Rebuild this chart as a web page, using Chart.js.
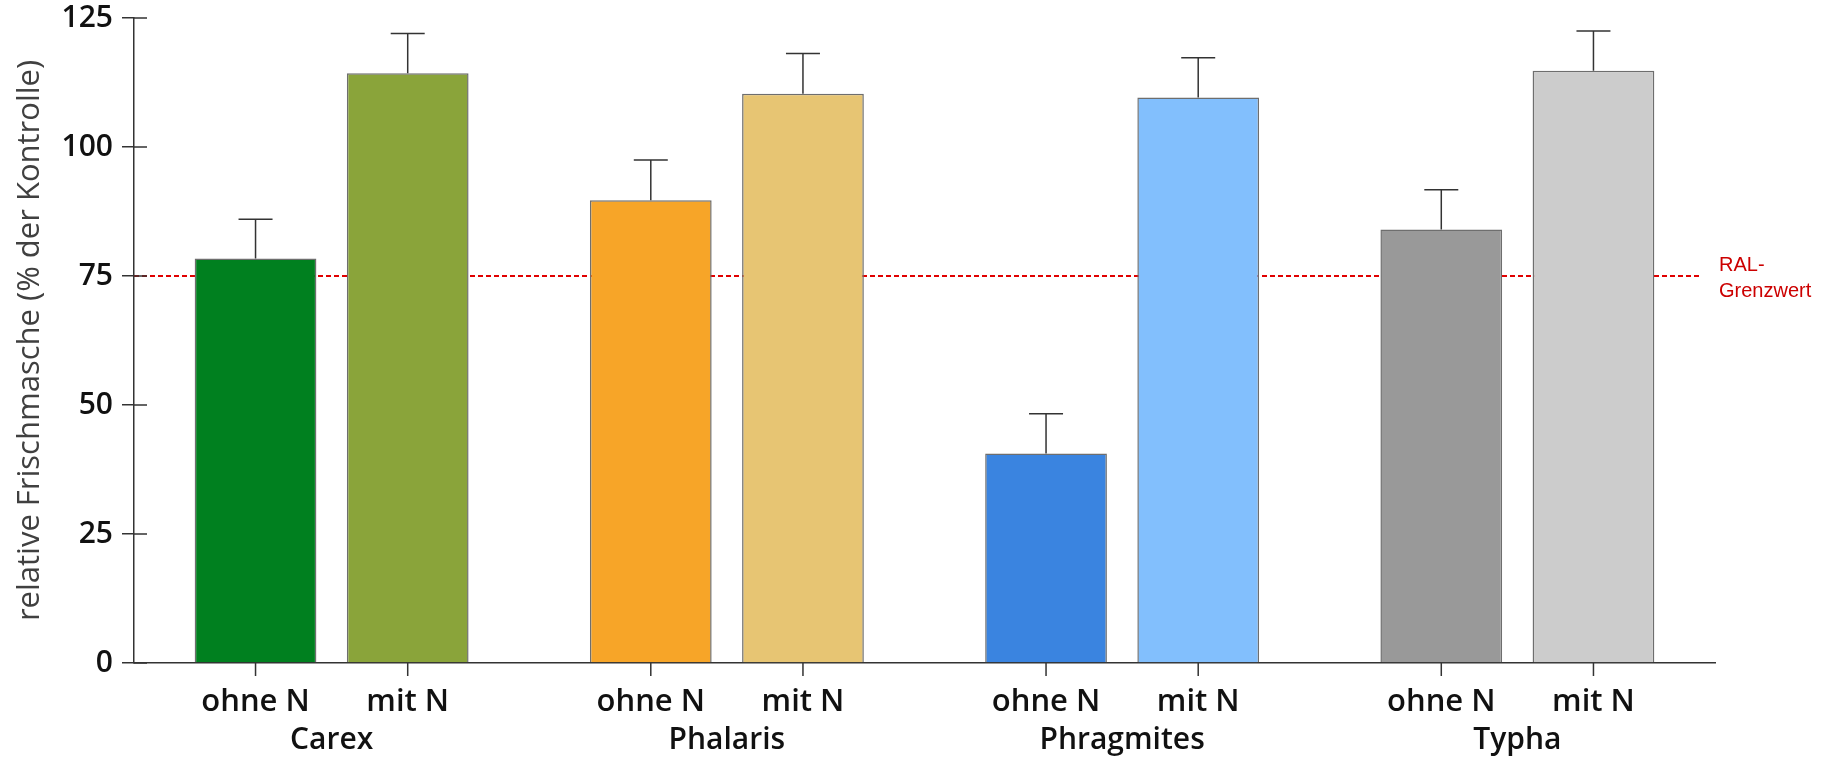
<!DOCTYPE html>
<html>
<head>
<meta charset="utf-8">
<script src="https://cdn.jsdelivr.net/npm/chart.js@4.4.0/dist/chart.umd.min.js"></script>
<style>
  html, body { margin: 0; padding: 0; background: #fff; }
  #wrap { width: 1833px; height: 760px; }
</style>
</head>
<body>
<div id="wrap"><canvas id="frischChart"></canvas></div>
<script>
const species = ['Carex', 'Phalaris', 'Phragmites', 'Typha'];
const treatments = ['ohne N', 'mit N'];
const ohneN = [78.4, 89.7, 40.6, 84.0];
const mitN = [114.3, 110.3, 109.6, 114.8];
const ohneErr = [7.6, 7.8, 7.7, 7.7];
const mitErr = [7.7, 7.8, 7.7, 7.7];
const ohneColors = ['#00801f', '#f7a528', '#3a84e0', '#999999'];
const mitColors = ['#8aa43a', '#e7c573', '#82bffd', '#cccccc'];
const yTicks = [0, 25, 50, 75, 100, 125];
const ralValue = 75;
const ralLabel = ['RAL-', 'Grenzwert'];

const FONT = '"Open Sans", "DejaVu Sans", sans-serif';

// error bars on top of every bar
const errorBars = {
    id: 'errorBars',
    afterDatasetsDraw(chart) {
        const ctx = chart.ctx, y = chart.scales.y;
        chart.data.datasets.forEach((ds, i) => {
            chart.getDatasetMeta(i).data.forEach((bar, j) => {
                const top = y.getPixelForValue(ds.data[j] + ds.errors[j]);
                ctx.save();
                ctx.strokeStyle = '#333';
                ctx.lineWidth = 1.5;
                ctx.beginPath();
                ctx.moveTo(bar.x, bar.y);
                ctx.lineTo(bar.x, top);
                ctx.moveTo(bar.x - 17, top);
                ctx.lineTo(bar.x + 17, top);
                ctx.stroke();
                ctx.restore();
            });
        });
    }
};

// red dashed RAL line, behind the bars
const ralLine = {
    id: 'ralLine',
    beforeDatasetsDraw(chart) {
        const ctx = chart.ctx, a = chart.chartArea;
        const yy = chart.scales.y.getPixelForValue(ralValue);
        ctx.save();
        ctx.strokeStyle = '#e00000';
        ctx.lineWidth = 2;
        ctx.setLineDash([5, 3]);
        ctx.beginPath();
        ctx.moveTo(a.left, yy);
        ctx.lineTo(a.right - 16, yy);
        ctx.stroke();
        ctx.setLineDash([]);
        ctx.fillStyle = '#cc0000';
        ctx.font = '20px "Liberation Sans", Arial, sans-serif';
        ctx.textAlign = 'left';
        ctx.fillText(ralLabel[0], a.right + 4, yy - 5);
        ctx.fillText(ralLabel[1], a.right + 4, yy + 21);
        ctx.restore();
    }
};

// ticks crossing the y axis, bar ticks and "ohne N"/"mit N" labels
const axisExtras = {
    id: 'axisExtras',
    afterDraw(chart) {
        const ctx = chart.ctx, x = chart.scales.x, y = chart.scales.y;
        ctx.save();
        ctx.strokeStyle = '#333';
        ctx.lineWidth = 1.5;
        ctx.beginPath();
        yTicks.forEach(v => {
            const py = y.getPixelForValue(v);
            ctx.moveTo(y.right, py);
            ctx.lineTo(y.right + 13, py);
        });
        chart.data.datasets.forEach((ds, i) => {
            chart.getDatasetMeta(i).data.forEach(bar => {
                ctx.moveTo(bar.x, x.top);
                ctx.lineTo(bar.x, x.top + 13);
            });
        });
        ctx.stroke();
        ctx.fillStyle = '#111';
        ctx.font = '600 31px ' + FONT;
        ctx.textAlign = 'center';
        chart.data.datasets.forEach((ds, i) => {
            chart.getDatasetMeta(i).data.forEach(bar => {
                ctx.fillText(treatments[i], bar.x, x.top + 48);
            });
        });
        ctx.restore();
    }
};

new Chart(document.getElementById('frischChart'), {
    type: 'bar',
    data: {
        labels: species,
        datasets: [{
            label: treatments[0],
            data: ohneN,
            errors: ohneErr,
            backgroundColor: ohneColors,
            borderColor: '#6e6e6e',
            borderWidth: 1.5
        }, {
            label: treatments[1],
            data: mitN,
            errors: mitErr,
            backgroundColor: mitColors,
            borderColor: '#6e6e6e',
            borderWidth: 1.5
        }]
    },
    options: {
        responsive: true,
        maintainAspectRatio: false,
        animation: false,
        categoryPercentage: 0.77,
        barPercentage: 0.8,
        layout: { padding: { top: 18, right: 118, bottom: 0, left: 0 } },
        plugins: {
            legend: { display: false },
            tooltip: { enabled: false }
        },
        scales: {
            x: {
                grid: { display: false, drawTicks: false },
                border: { display: true, color: '#333', width: 1.5 },
                ticks: {
                    padding: 59,
                    color: '#111',
                    font: { family: FONT, size: 30, weight: '600' }
                },
                afterFit(scale) { scale.height = 97; }
            },
            y: {
                min: 0,
                max: 125,
                afterBuildTicks(scale) { scale.ticks = yTicks.map(v => ({ value: v })); },
                grid: { drawOnChartArea: false, tickLength: 12, color: '#333', lineWidth: 1.5 },
                border: { display: true, color: '#333', width: 1.5 },
                ticks: {
                    padding: 9,
                    color: '#111',
                    font: { family: FONT, size: 30, weight: '600' }
                },
                title: {
                    display: true,
                    text: 'relative Frischmasche (% der Kontrolle)',
                    color: '#404040',
                    font: { family: FONT, size: 31, weight: '500' },
                    padding: { top: 12, bottom: 0 }
                },
                afterFit(scale) {
                    scale.width = 134;
                    scale.paddingTop = 0;
                    scale.paddingBottom = 0;
                }
            }
        }
    },
    plugins: [ralLine, errorBars, axisExtras]
});
</script>
</body>
</html>
